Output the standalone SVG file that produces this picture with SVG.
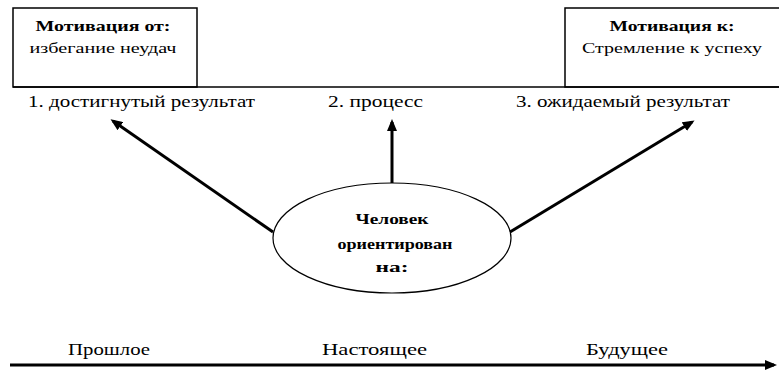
<svg xmlns="http://www.w3.org/2000/svg" width="779" height="372" viewBox="0 0 779 372">
<style>
text{font-family:'Liberation Serif','Times New Roman',Times,'DejaVu Serif',serif;fill:#000}
.ln{stroke:#000;fill:none}
.box{stroke:#000;stroke-width:1.5;fill:#fff}
.t{font-size:17px}
.b{font-size:15px;font-weight:bold}
.n{font-size:15px}
.arr{stroke:#000;stroke-width:3;fill:none;marker-end:url(#ah)}
</style>
<defs>
<marker id="ah" markerWidth="12" markerHeight="10" refX="9" refY="5" orient="auto" markerUnits="userSpaceOnUse">
<path d="M0,0 L12,5 L0,10 z" fill="#000"/>
</marker>
</defs>
<rect width="779" height="372" fill="#fff"/>
<g id="box-left">
<rect class="box" x="13" y="8" width="184" height="79"/>
<text class="b" x="103" y="31" text-anchor="middle" textLength="135" lengthAdjust="spacingAndGlyphs">Мотивация от:</text>
<text class="n" x="103" y="53" text-anchor="middle" textLength="147" lengthAdjust="spacingAndGlyphs">избегание неудач</text>
</g>
<g id="box-right">
<rect class="box" x="565" y="8" width="220" height="79"/>
<text class="b" x="672" y="31" text-anchor="middle" textLength="125" lengthAdjust="spacingAndGlyphs">Мотивация к:</text>
<text class="n" x="672" y="53" text-anchor="middle" textLength="180" lengthAdjust="spacingAndGlyphs">Стремление к успеху</text>
</g>
<g id="baseline-top">
<line class="ln" x1="13" y1="87" x2="779" y2="87" stroke-width="1.5"/>
</g>
<g id="label-1"><text class="t" x="28" y="107" textLength="227" lengthAdjust="spacingAndGlyphs">1. достигнутый результат</text></g>
<g id="label-2"><text class="t" x="328" y="107" textLength="95" lengthAdjust="spacingAndGlyphs">2. процесс</text></g>
<g id="label-3"><text class="t" x="516" y="107" textLength="214" lengthAdjust="spacingAndGlyphs">3. ожидаемый результат</text></g>
<g id="center">
<ellipse cx="392" cy="238" rx="119" ry="55" stroke="#000" stroke-width="1.2" fill="#fff"/>
<text class="b" x="392" y="224" text-anchor="middle" textLength="73" lengthAdjust="spacingAndGlyphs">Человек</text>
<text class="b" x="395" y="249" text-anchor="middle" textLength="115" lengthAdjust="spacingAndGlyphs">ориентирован</text>
<text class="b" x="392" y="272" text-anchor="middle" textLength="33" lengthAdjust="spacingAndGlyphs">на:</text>
</g>
<g id="connectors">
<line class="arr" x1="273" y1="232" x2="113" y2="121"/>
<line class="arr" x1="392" y1="183" x2="392" y2="122"/>
<line class="arr" x1="510" y1="232" x2="692" y2="122"/>
</g>
<g id="timeline">
<line class="arr" x1="10" y1="365" x2="774" y2="365"/>
<text class="t" x="68" y="355" textLength="82" lengthAdjust="spacingAndGlyphs">Прошлое</text>
<text class="t" x="322" y="355" textLength="105" lengthAdjust="spacingAndGlyphs">Настоящее</text>
<text class="t" x="586" y="355" textLength="82" lengthAdjust="spacingAndGlyphs">Будущее</text>
</g>
</svg>
